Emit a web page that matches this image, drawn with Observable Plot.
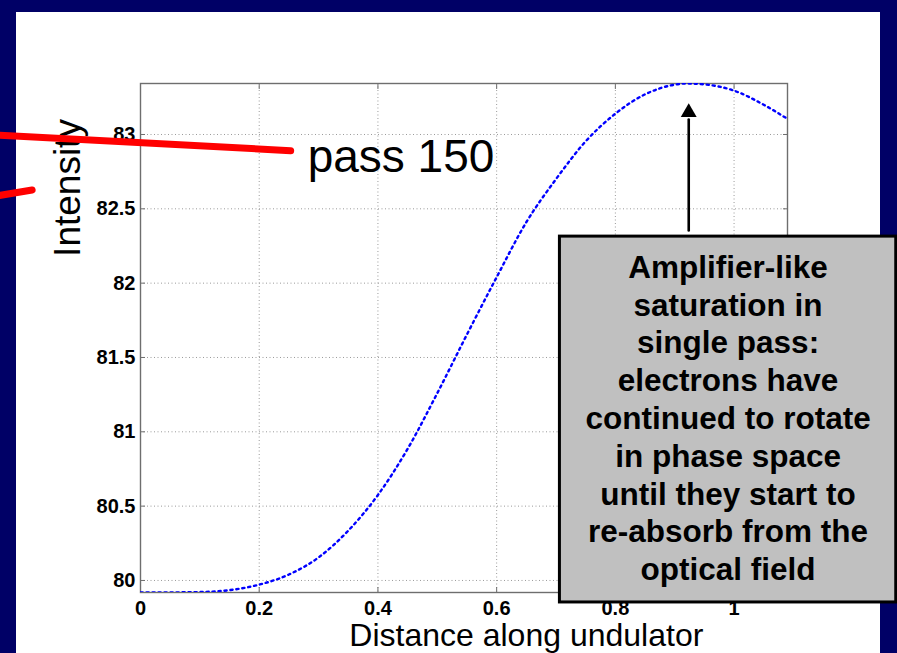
<!DOCTYPE html>
<html><head><meta charset="utf-8">
<script src="https://cdn.jsdelivr.net/npm/d3@7"></script>
<script src="https://cdn.jsdelivr.net/npm/@observablehq/plot@0.6"></script>
<style>
html,body{margin:0;padding:0;background:#000066;}
#page{position:relative;width:897px;height:653px;overflow:hidden;background:#000066;}
#panel{position:absolute;left:16px;top:12px;width:864px;height:641px;background:#fff;}
#chart{position:absolute;left:0;top:0;}
</style></head><body>
<div id="page"><div id="panel"></div><div id="chart"></div></div>
<script>
// Curve
const distance  = [0, 0.05, 0.1, 0.15, 0.2, 0.25, 0.3, 0.35, 0.4, 0.45, 0.5, 0.55, 0.6, 0.65, 0.7, 0.75, 0.8, 0.85, 0.9, 0.92, 0.95, 1.0, 1.05, 1.09];
const intensity = [79.92, 79.92, 79.922, 79.935, 79.972, 80.04, 80.155, 80.335, 80.575, 80.885, 81.26, 81.655, 82.04, 82.41, 82.70, 82.954, 83.14, 83.27, 83.335, 83.343, 83.337, 83.295, 83.2, 83.105];

const xTicks = [0, 0.2, 0.4, 0.6, 0.8, 1];
const xTickLabels = ["0", "0.2", "0.4", "0.6", "0.8", "1"];
const yTicks = [80, 80.5, 81, 81.5, 82, 82.5, 83];
const yTickLabels = ["80", "80.5", "81", "81.5", "82", "82.5", "83"];

const xLabel = "Distance along undulator";
const yLabel = "Intensity";
const passLabel = "pass 150";
const noteLines = ["Amplifier-like", "saturation in", "single pass:", "electrons have", "continued to rotate", "in phase space", "until they start to", "re-absorb from the", "optical field"];

// Annotation anchors in data units
const redLineA = [{x: -0.24, y: 82.996}, {x: 0.253, y: 82.891}];
const redLineB = [{x: -0.24, y: 82.588}, {x: -0.1826, y: 82.627}];
const passPos = {x: 0.2816, y: 82.845};
const noteBox = {x1: 0.7066, x2: 1.2732, y1: 79.852, y2: 82.313};
const notePos = {x: 0.9899, y: 81.10};
const arrowShaft = [{x: 0.9236, y: 82.354}, {x: 0.9236, y: 83.1}];
const arrowHead = {x: 0.9236, y: 83.149};
const xLabelPos = {x: 0.650, y: 79.625};
const yLabelPos = {x: -0.1218, y: 82.64};

const curve = distance.map((d, i) => ({d, v: intensity[i]}));
const font = "'Liberation Sans', Arial, Helvetica, sans-serif";
const frameGray = "#6e6e6e";

const chart = Plot.plot({
  width: 897, height: 653,
  marginLeft: 140, marginRight: 110, marginTop: 83, marginBottom: 61,
  style: {background: "transparent", fontFamily: font, color: "black", overflow: "visible"},
  x: {domain: [0, 1.09], ticks: xTicks},
  y: {domain: [79.919, 83.343], ticks: yTicks},
  marks: [
    Plot.gridX(xTicks, {stroke: "#9a9a9a", strokeOpacity: 1, strokeDasharray: "1,2.5", strokeWidth: 1}),
    Plot.gridY(yTicks, {stroke: "#9a9a9a", strokeOpacity: 1, strokeDasharray: "1,2.5", strokeWidth: 1}),
    Plot.frame({stroke: frameGray, strokeWidth: 1.4}),
    Plot.axisX(xTicks, {anchor: "bottom", tickSize: -5, tickPadding: 13.5, stroke: frameGray, label: null,
      tickFormat: (d, i) => xTickLabels[i], fontSize: 20, fontWeight: "bold", fill: "black"}),
    Plot.axisX(xTicks, {anchor: "top", tickSize: -5, stroke: frameGray, label: null, tickFormat: () => ""}),
    Plot.axisY(yTicks, {anchor: "left", tickSize: -5, tickPadding: 10, stroke: frameGray, label: null,
      tickFormat: (d, i) => yTickLabels[i], fontSize: 20, fontWeight: "bold", fill: "black"}),
    Plot.axisY(yTicks, {anchor: "right", tickSize: -5, stroke: frameGray, label: null, tickFormat: () => ""}),
    Plot.line(curve, {x: "d", y: "v", stroke: "#0000ff", strokeWidth: 2.4, strokeDasharray: "2.2,3.8", curve: "monotone-x", clip: true}),
    Plot.text([xLabel], {x: xLabelPos.x, y: xLabelPos.y, text: d => d, fontSize: 32, fill: "black"}),
    Plot.text([yLabel], {x: yLabelPos.x, y: yLabelPos.y, text: d => d, fontSize: 37, rotate: -90, fill: "black"}),
    Plot.rect([noteBox], {x1: "x1", x2: "x2", y1: "y1", y2: "y2", fill: "#c0c0c0", stroke: "black", strokeWidth: 3}),
    Plot.text([noteLines.join("\n")], {x: notePos.x, y: notePos.y, text: d => d, fontSize: 31.5, fontWeight: "bold", lineHeight: 1.2, fill: "black"}),
    Plot.line(arrowShaft, {x: "x", y: "y", stroke: "black", strokeWidth: 2.6}),
    Plot.dot([arrowHead], {x: "x", y: "y", symbol: "triangle", r: 5.9, fill: "black", stroke: "none"}),
    Plot.line(redLineA, {x: "x", y: "y", stroke: "#ff0000", strokeWidth: 7}),
    Plot.line(redLineB, {x: "x", y: "y", stroke: "#ff0000", strokeWidth: 7}),
    Plot.text([passLabel], {x: passPos.x, y: passPos.y, text: d => d, fontSize: 46, textAnchor: "start", fill: "black"})
  ]
});
document.getElementById("chart").appendChild(chart);
</script>
</body></html>
